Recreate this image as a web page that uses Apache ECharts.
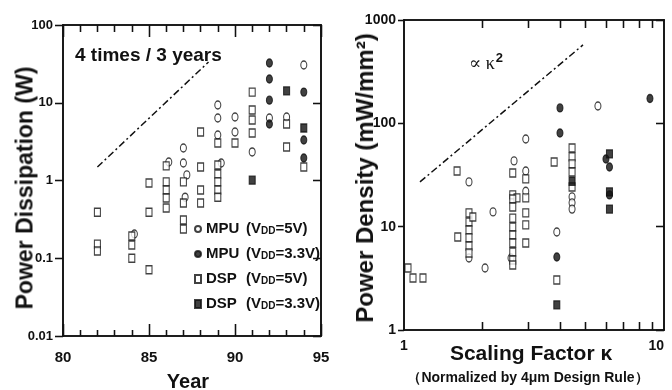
<!DOCTYPE html>
<html>
<head>
<meta charset="utf-8">
<script src="https://cdn.jsdelivr.net/npm/echarts@6.0.0/dist/echarts.min.js"></script>
<style>
  html, body { margin: 0; padding: 0; background: #fff; }
  #wrap { position: relative; width: 672px; height: 390px; overflow: hidden; background: #fff; }
  .layer { position: absolute; left: 0; top: 0; width: 672px; height: 390px; }
  #ticks { pointer-events: none; }
  .lbl { position: absolute; white-space: nowrap; line-height: 1; color: #111; }
</style>
</head>
<body>
<div id="wrap"><div id="chart" class="layer"></div><div id="ticks" class="layer"></div></div>
<script>
// ---- left panel: power dissipation (W) vs year ----
const yearTicks = [80, 85, 90, 95];
const wattTicks = [0.01, 0.1, 1, 10, 100];

const mpu5vByYear = [
  [84.15, 0.205], [86.15, 1.73], [87, 2.62], [87, 1.68], [87.2, 1.18], [87.1, 0.61],
  [89, 9.35], [89, 6.37], [89, 3.85], [89.2, 1.68], [90, 6.56], [90, 4.2],
  [91, 2.33], [92, 6.37], [93, 6.56], [94, 30.6]
];
const mpu33vByYear = [
  [92, 32.5], [92, 20.2], [92, 10.8], [92, 5.33], [94, 13.7], [94, 3.32], [94, 1.95]
];
const dsp5vByYear = [
  [82, 0.39], [82, 0.152], [82, 0.124],
  [84, 0.193], [84, 0.148], [84, 0.10],
  [85, 0.93], [85, 0.39], [85, 0.071],
  [86, 1.54], [86, 0.96], [86, 0.755], [86, 0.596], [86, 0.443],
  [87, 0.96], [87, 0.513], [87, 0.31], [87, 0.238],
  [88, 4.2], [88, 1.49], [88, 0.755], [88, 0.513],
  [89, 3.04], [89, 1.58], [89, 1.21], [89, 0.96], [89, 0.755], [89, 0.61],
  [90, 3.04],
  [91, 13.7], [91, 8.07], [91, 6.0], [91, 4.08],
  [93, 5.33], [93, 2.7],
  [94, 1.49]
];
const dsp33vByYear = [[91, 1.01], [93, 14.2], [94, 4.73]];
const fourTimesPerThreeYears = [[82, 1.49], [88.46, 33.4]];

// ---- right panel: power density (mW/mm2) vs scaling factor ----
const kTicks = [2, 3, 4, 5, 6, 7, 8, 9];
const densityTicks = [1, 10, 100, 1000];

const mpu5vByK = [
  [1.778, 27.1], [1.778, 4.98], [2.05, 3.98], [2.2, 13.9], [2.65, 43.3], [2.58, 4.98],
  [2.94, 70.6], [2.94, 34.6], [2.94, 22.0], [3.87, 8.89],
  [4.43, 19.4], [4.43, 17.0], [4.43, 14.8], [5.57, 147]
];
const mpu33vByK = [
  [3.98, 141], [3.98, 80.7], [3.87, 5.09], [5.98, 45.2], [6.17, 37.8], [6.17, 20.3], [8.83, 174]
];
const dsp5vByK = [
  [1.036, 3.98], [1.083, 3.19], [1.183, 3.19],
  [1.6, 34.6], [1.61, 7.95],
  [1.778, 13.6], [1.778, 11.1], [1.778, 9.29], [1.778, 7.78], [1.778, 6.5], [1.778, 5.56], [1.84, 12.4],
  [2.62, 33.1], [2.62, 20.3], [2.72, 19.0], [2.62, 18.5], [2.62, 15.5], [2.62, 12.1], [2.62, 9.93],
  [2.62, 8.31], [2.62, 6.95], [2.62, 5.69], [2.62, 4.76], [2.62, 4.26],
  [2.94, 29.0], [2.94, 19.0], [2.94, 13.6], [2.94, 10.4], [2.94, 6.95],
  [3.78, 42.3], [3.87, 3.05],
  [4.43, 57.8], [4.43, 47.3], [4.43, 40.5], [4.43, 33.8], [4.43, 24.2]
];
const dsp33vByK = [[3.87, 1.75], [4.43, 27.5], [6.17, 50.6], [6.17, 21.7], [6.17, 14.8]];
const kSquaredGuide = [[1.152, 27.1], [4.88, 574]];

const seriesNames = ['MPU (VDD=5V)', 'MPU (VDD=3.3V)', 'DSP (VDD=5V)', 'DSP (VDD=3.3V)'];

const FONT = '"Liberation Sans", Arial, sans-serif';
const INK = '#111';

const logLabel = v => String(+Number(v).toPrecision(3));

const grids = [
  { left: 63, top: 25, width: 258, height: 311 },
  { left: 404, top: 20, width: 260, height: 310 }
];

function markerStyle(idx) {
  // open / filled, circle / rect
  const filled = idx === 1 || idx === 3;
  return {
    symbol: idx < 2 ? 'circle' : 'rect',
    symbolSize: [6, 8],
    itemStyle: { color: filled ? INK : '#fff', borderColor: INK, borderWidth: 1.2 }
  };
}

function scatter(idx, data, panel) {
  return Object.assign({
    name: seriesNames[idx], type: 'scatter',
    xAxisIndex: panel * 2, yAxisIndex: panel * 2, data: data
  }, markerStyle(idx));
}

function guideLine(data, panel) {
  return {
    type: 'line', xAxisIndex: panel * 2, yAxisIndex: panel * 2,
    data: data, symbol: 'none', silent: true,
    lineStyle: { color: INK, width: 1.5, type: [7, 3, 2, 3] }
  };
}

// axes are built twice: once with labels under the data, once as a tick-only layer on top
function axes(withLabels) {
  const boxLine = { show: true, onZero: false, lineStyle: { color: INK, width: 1.6 } };
  const tickLine = { color: INK, width: 1.3 };
  const lab = extra => withLabels && extra
    ? Object.assign({ fontWeight: 'bold', color: INK, fontFamily: FONT }, extra)
    : { show: false };

  const yearAxis = (pos, extra) => ({
    gridIndex: 0, type: 'value', position: pos,
    min: yearTicks[0], max: yearTicks[yearTicks.length - 1], interval: 5,
    axisLine: boxLine,
    axisTick: { show: true, inside: true, length: 12, lineStyle: tickLine },
    minorTick: { show: true, splitNumber: 5, length: pos === 'top' ? 7 : 6, lineStyle: tickLine },
    axisLabel: lab(extra),
    splitLine: { show: false }, minorSplitLine: { show: false }
  });

  const logAxis = (grid, pos, range, tick, extra) => ({
    gridIndex: grid, type: 'log', logBase: 10, position: pos,
    min: range[0], max: range[range.length - 1],
    axisLine: boxLine,
    axisTick: Object.assign({ show: true, lineStyle: tickLine }, tick),
    axisLabel: Object.assign(lab(extra), withLabels && extra ? { formatter: logLabel } : {}),
    splitLine: { show: false }
  });

  return {
    xAxis: [
      yearAxis('bottom', { margin: 14, fontSize: 15 }),
      yearAxis('top', null),
      logAxis(1, 'bottom', [1, 10], { inside: true, length: 8, customValues: kTicks },
        { margin: 9, fontSize: 14, alignMaxLabel: 'right' }),
      logAxis(1, 'top', [1, 10], { inside: true, length: 8, customValues: kTicks }, null)
    ],
    yAxis: [
      logAxis(0, 'left', wattTicks, { length: 8 }, { margin: 10, fontSize: 13 }),
      logAxis(0, 'right', wattTicks, { inside: true, length: 8 }, null),
      logAxis(1, 'left', densityTicks, { length: 6 }, { margin: 8, fontSize: 14 }),
      logAxis(1, 'right', densityTicks, { inside: true, length: 8 }, null)
    ]
  };
}

const mainAxes = axes(true);
const chart = echarts.init(document.getElementById('chart'));
chart.setOption({
  animation: false,
  backgroundColor: '#fff',
  grid: grids,
  legend: {
    data: seriesNames, orient: 'vertical', left: 194, top: 220, padding: 0,
    itemGap: 7, itemWidth: 6, itemHeight: 8, selectedMode: false,
    formatter: name => {
      const m = name.match(/^(\w+) \(VDD=(.+)\)$/);
      return '{a|' + m[1] + '}{b|(V}{s|DD}{b|=' + m[2] + ')}';
    },
    textStyle: {
      color: INK, fontFamily: FONT, lineHeight: 18,
      rich: {
        a: { width: 40, fontSize: 15, fontWeight: 'bold', color: INK, fontFamily: FONT },
        b: { fontSize: 15, fontWeight: 'bold', color: INK, fontFamily: FONT },
        s: { fontSize: 10, fontWeight: 'bold', color: INK, fontFamily: FONT, padding: [4, 0, 0, 0] }
      }
    }
  },
  xAxis: mainAxes.xAxis,
  yAxis: mainAxes.yAxis,
  series: [
    guideLine(fourTimesPerThreeYears, 0),
    scatter(0, mpu5vByYear, 0),
    scatter(1, mpu33vByYear, 0),
    scatter(2, dsp5vByYear, 0),
    scatter(3, dsp33vByYear, 0),
    guideLine(kSquaredGuide, 1),
    scatter(0, mpu5vByK, 1),
    scatter(1, mpu33vByK, 1),
    scatter(2, dsp5vByK, 1),
    scatter(3, dsp33vByK, 1)
  ]
});

// transparent tick layer, same grids and scales
const tickAxes = axes(false);
const tickChart = echarts.init(document.getElementById('ticks'));
tickChart.setOption({
  animation: false,
  backgroundColor: 'transparent',
  grid: grids,
  xAxis: tickAxes.xAxis,
  yAxis: tickAxes.yAxis,
  series: [
    { type: 'scatter', xAxisIndex: 0, yAxisIndex: 0, data: [], silent: true },
    { type: 'scatter', xAxisIndex: 2, yAxisIndex: 2, data: [], silent: true }
  ]
});

// titles and annotations
const wrap = document.getElementById('wrap');
function addText(html, x, y, font, opts) {
  opts = opts || {};
  const d = document.createElement('div');
  d.className = 'lbl';
  d.innerHTML = html;
  d.style.font = font;
  d.style.left = x + 'px';
  d.style.top = y + 'px';
  d.style.transform = (opts.alignLeft ? 'translate(0,-50%)' : 'translate(-50%,-50%)') +
    (opts.rotate ? ' rotate(-90deg)' : '');
  wrap.appendChild(d);
}

addText('Power Dissipation (W)', 25, 188, 'bold 23px ' + FONT, { rotate: true });
addText('Year', 188, 381, 'bold 20px ' + FONT);
addText('4 times / 3 years', 75, 55, 'bold 19px ' + FONT, { alignLeft: true });
addText('Power Density (mW/mm²)', 365, 178, 'bold 24px ' + FONT, { rotate: true });
addText('Scaling Factor κ', 531, 353, 'bold 21px ' + FONT);
addText('（Normalized by 4μm Design Rule）', 528, 378, 'bold 14px ' + FONT);
addText('∝ κ<span style="font:bold 13px ' + FONT.replace(/"/g, "'") +
  ';position:relative;top:-7px;margin-left:1px">2</span>',
  469, 63, '18px "Liberation Serif", "DejaVu Serif", serif', { alignLeft: true });
</script>
</body>
</html>
